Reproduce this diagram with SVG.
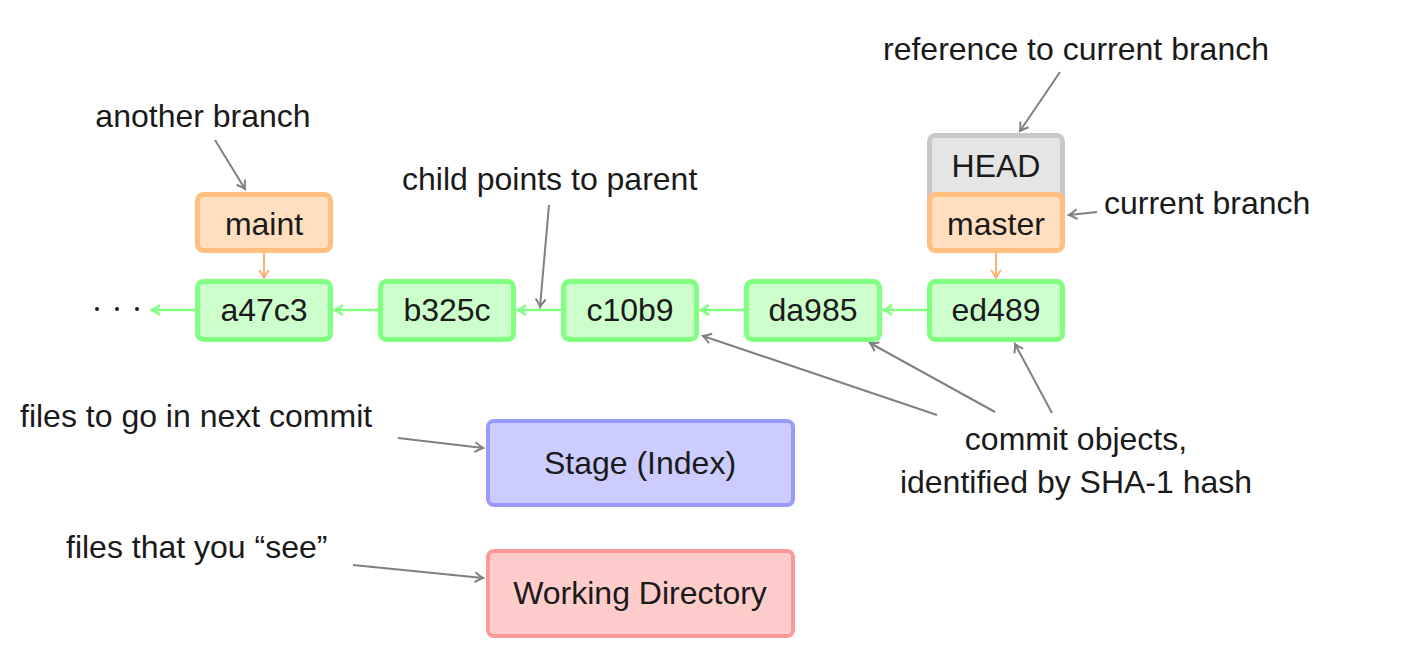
<svg xmlns="http://www.w3.org/2000/svg" width="1409" height="671" viewBox="0 0 1409 671">
<style>
text{font-family:"Liberation Sans",Arial,sans-serif;font-size:32px;fill:#1a1a1a}
.c{text-anchor:middle}
.commit{fill:#ccffcc;stroke:#80ff80;stroke-width:5}
.branch{fill:#ffdfbf;stroke:#ffbf80;stroke-width:5}
.head{fill:#e5e5e5;stroke:#c8c8c8;stroke-width:5}
.stage{fill:#ccccff;stroke:#9999ff;stroke-width:4}
.wd{fill:#ffcccc;stroke:#ff9999;stroke-width:4}
.ga{stroke:#808080;stroke-width:2;fill:none;marker-end:url(#mg)}
.gr{stroke:#80ff80;stroke-width:2.5;fill:none;marker-end:url(#mgr)}
.or{stroke:#ffb070;stroke-width:2;fill:none;marker-end:url(#mor)}
</style>
<defs>
<marker id="mg" markerUnits="userSpaceOnUse" viewBox="-10 -7 12 14" refX="0" refY="0" markerWidth="12" markerHeight="14" orient="auto"><path d="M-8,-5 Q-3,-1.2 0,0 Q-3,1.2 -8,5" fill="none" stroke="#808080" stroke-width="2"/></marker>
<marker id="mgr" markerUnits="userSpaceOnUse" viewBox="-10 -7 12 14" refX="0" refY="0" markerWidth="12" markerHeight="14" orient="auto"><path d="M-8,-5 Q-3,-1.2 0,0 Q-3,1.2 -8,5" fill="none" stroke="#80ff80" stroke-width="2.5"/></marker>
<marker id="mor" markerUnits="userSpaceOnUse" viewBox="-10 -7 12 14" refX="0" refY="0" markerWidth="12" markerHeight="14" orient="auto"><path d="M-8,-5 Q-3,-1.2 0,0 Q-3,1.2 -8,5" fill="none" stroke="#ffb070" stroke-width="2"/></marker>
</defs>
<rect width="1409" height="671" fill="#ffffff"/>

<g id="connectors">
<line class="gr" x1="927" y1="310" x2="884" y2="310"/>
<line class="gr" x1="744" y1="310" x2="701" y2="310"/>
<line class="gr" x1="561" y1="310" x2="518" y2="310"/>
<line class="gr" x1="378" y1="310" x2="335" y2="310"/>
<line class="gr" x1="195" y1="310" x2="152" y2="310"/>
<line class="or" x1="264" y1="253" x2="264" y2="278"/>
<line class="or" x1="996" y1="253" x2="996" y2="278"/>
<line class="ga" x1="215" y1="140" x2="245" y2="189"/>
<line class="ga" x1="549" y1="205" x2="540" y2="307"/>
<line class="ga" x1="1060" y1="72" x2="1020" y2="131"/>
<line class="ga" x1="1097" y1="212" x2="1069" y2="215"/>
<line class="ga" x1="937" y1="415" x2="703" y2="336"/>
<line class="ga" x1="995" y1="412" x2="870" y2="343"/>
<line class="ga" x1="1052" y1="413" x2="1015" y2="344"/>
<line class="ga" x1="398" y1="438" x2="483" y2="448"/>
<line class="ga" x1="353" y1="565" x2="483" y2="578"/>
</g>

<g id="dots">
<circle cx="97" cy="309" r="2" fill="#1a1a1a"/>
<circle cx="117" cy="309" r="2" fill="#1a1a1a"/>
<circle cx="137" cy="309" r="2" fill="#1a1a1a"/>
</g>

<g id="a47c3"><rect class="commit" x="197.5" y="281.5" width="133" height="58" rx="6"/><text class="c" x="264" y="321">a47c3</text></g>
<g id="b325c"><rect class="commit" x="380.5" y="281.5" width="133" height="58" rx="6"/><text class="c" x="447" y="321">b325c</text></g>
<g id="c10b9"><rect class="commit" x="563.5" y="281.5" width="133" height="58" rx="6"/><text class="c" x="630" y="321">c10b9</text></g>
<g id="da985"><rect class="commit" x="746.5" y="281.5" width="133" height="58" rx="6"/><text class="c" x="813" y="321">da985</text></g>
<g id="ed489"><rect class="commit" x="929.5" y="281.5" width="133" height="58" rx="6"/><text class="c" x="996" y="321">ed489</text></g>

<g id="maint"><rect class="branch" x="197.5" y="194.5" width="133" height="56" rx="6"/><text class="c" x="264" y="235">maint</text></g>
<g id="HEAD"><rect class="head" x="929.5" y="135.5" width="133" height="90" rx="6"/><text class="c" x="996" y="177">HEAD</text></g>
<g id="master"><rect class="branch" x="929.5" y="194.5" width="133" height="56" rx="6"/><text class="c" x="996" y="235">master</text></g>

<g id="stage"><rect class="stage" x="488" y="421" width="305" height="84" rx="6"/><text class="c" x="640" y="474">Stage (Index)</text></g>
<g id="workdir"><rect class="wd" x="488" y="551" width="305" height="85" rx="6"/><text class="c" x="640" y="604">Working Directory</text></g>

<g id="labels">
<text class="c" x="203" y="127">another branch</text>
<text x="402" y="190">child points to parent</text>
<text x="883" y="60">reference to current branch</text>
<text x="1104" y="214">current branch</text>
<text class="c" x="1076" y="450">commit objects,</text>
<text class="c" x="1076" y="493">identified by SHA-1 hash</text>
<text x="20" y="427">files to go in next commit</text>
<text x="66" y="558">files that you “see”</text>
</g>
</svg>
